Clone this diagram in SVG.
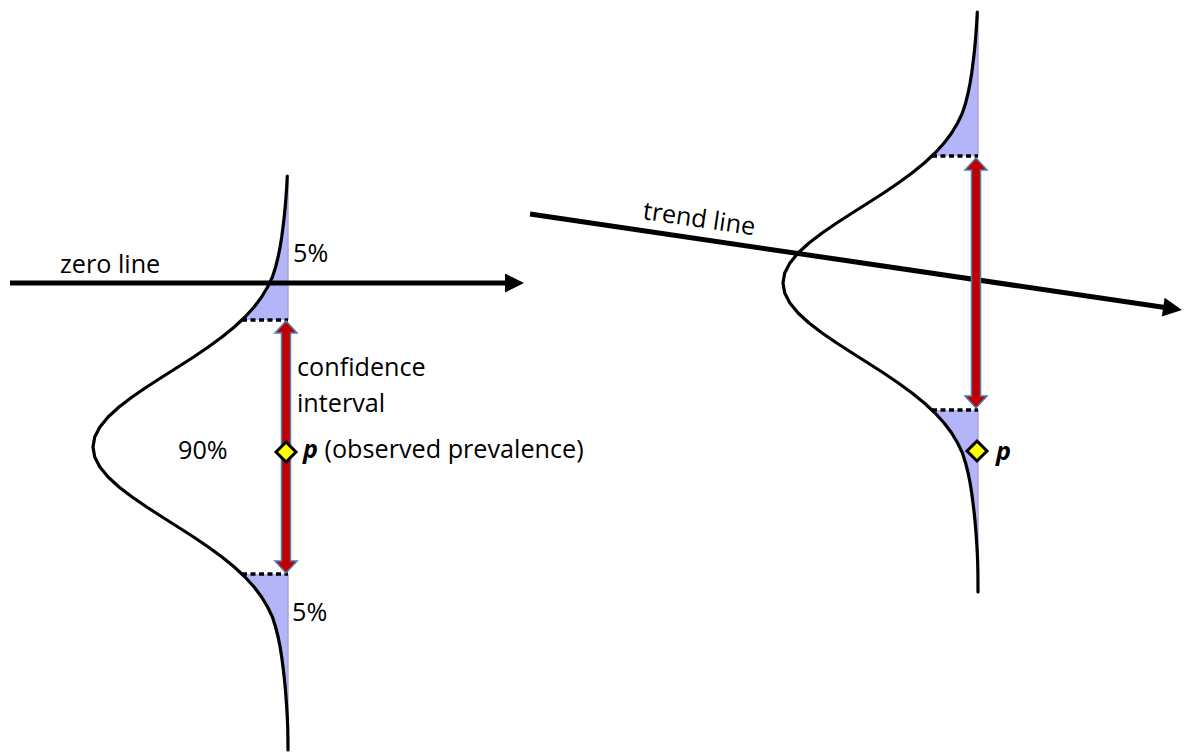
<svg xmlns="http://www.w3.org/2000/svg" width="1184" height="753" viewBox="0 0 1184 753">
<style>
.lbl{font-family:"Open Sans","Noto Sans","Liberation Sans",sans-serif;font-size:25.2px;fill:#000}
.pb{font-weight:bold;font-style:italic}
.curve{fill:none;stroke:#000;stroke-width:3.2;stroke-linejoin:round;stroke-linecap:round}
.tail{fill:#b4b4f8;stroke:none}
.edge{stroke:#a6a6d2;stroke-width:1.5}
.dots{stroke:#000;stroke-width:3.5;stroke-dasharray:5 3.5}
.ci{fill:#c00000;stroke:#4a7ebb;stroke-width:1.5;stroke-linejoin:miter}
.axis{stroke:#000;stroke-width:5;fill:none}
.head{fill:#000}
.pt{fill:#ffff00;stroke:#000;stroke-width:3;stroke-linejoin:miter}
</style>
<rect width="1184" height="753" fill="#fff"/>

<g id="left-distribution">
  <polygon class="tail" points="287.3,176 286.7,187 286,197 285.2,207 284.2,217 283,227 281.7,237 280.1,247 278.1,257 275.6,267 272.4,277 267.6,287 261.6,297 254.1,307 245,317 241.8,320 288,320 288,176"/>
  <polygon class="tail" points="241.8,574 245,577 254.1,587 261.6,597 267.6,607 272.4,617 275.6,627 278.1,637 280.1,647 281.7,657 283,667 284.2,677 285.2,687 286,697 286.7,707 287.3,717 287.7,727 287.9,737 288,750 288,574"/>
  <line class="edge" x1="288" y1="180" x2="288" y2="320"/>
  <line class="edge" x1="288" y1="574" x2="288" y2="740"/>
  <polyline class="curve" points="287.3,176 286.7,187 286,197 285.2,207 284.2,217 283,227 281.7,237 280.1,247 278.1,257 275.6,267 272.4,277 267.6,287 261.6,297 254.1,307 245,317 234.3,327 222,337 208.3,347 193.6,357 178,367 162.2,377 146.7,387 132.1,397 119,407 108.1,417 99.9,427 94.7,437 93,447 94.7,457 99.9,467 108.1,477 119,487 132.1,497 146.7,507 162.2,517 178,527 193.6,537 208.3,547 222,557 234.3,567 245,577 254.1,587 261.6,597 267.6,607 272.4,617 275.6,627 278.1,637 280.1,647 281.7,657 283,667 284.2,677 285.2,687 286,697 286.7,707 287.3,717 287.7,727 287.9,737 288,750"/>
  <line class="dots" x1="242" y1="320" x2="288" y2="320"/>
  <line class="dots" x1="242" y1="574" x2="288" y2="574"/>
  <text class="lbl" x="293" y="262">5%</text>
  <text class="lbl" x="292" y="621">5%</text>
  <text class="lbl" x="178" y="459">90%</text>
</g>

<g id="right-distribution">
  <polygon class="tail" points="977.3,12 976.7,23 976,33 975.2,43 974.2,53 973,63 971.7,73 970.1,83 968.1,93 965.6,103 962.4,113 957.6,123 951.6,133 944.1,143 935,153 931.8,156 978,156 978,12"/>
  <polygon class="tail" points="931.8,410 935,413 944.1,423 951.6,433 957.6,443 962.4,453 965.6,463 968.1,473 970.1,483 971.7,493 973,503 974.2,513 975.2,523 976,533 976.7,543 977.3,553 977.7,563 977.9,573 978,592 978,410"/>
  <line class="edge" x1="978" y1="16" x2="978" y2="156"/>
  <line class="edge" x1="978" y1="410" x2="978" y2="580"/>
  <polyline class="curve" points="977.3,12 976.7,23 976,33 975.2,43 974.2,53 973,63 971.7,73 970.1,83 968.1,93 965.6,103 962.4,113 957.6,123 951.6,133 944.1,143 935,153 924.3,163 912,173 898.3,183 883.6,193 868,203 852.2,213 836.7,223 822.1,233 809,243 798.1,253 789.9,263 784.7,273 783,283 784.7,293 789.9,303 798.1,313 809,323 822.1,333 836.7,343 852.2,353 868,363 883.6,373 898.3,383 912,393 924.3,403 935,413 944.1,423 951.6,433 957.6,443 962.4,453 965.6,463 968.1,473 970.1,483 971.7,493 973,503 974.2,513 975.2,523 976,533 976.7,543 977.3,553 977.7,563 977.9,573 978,592"/>
  <line class="dots" x1="932" y1="156" x2="978" y2="156"/>
  <line class="dots" x1="932" y1="410" x2="978" y2="410"/>
</g>

<g id="connectors">
  <g id="zero-line">
    <line class="axis" x1="10" y1="283" x2="507" y2="283"/>
    <polygon class="head" points="505,273.5 524,283 505,292.5"/>
  </g>
  <g id="trend-line">
    <line class="axis" x1="530" y1="214" x2="1165" y2="307.5"/>
    <polygon class="head" points="1164.6,297.8 1182,310 1161.8,316.6"/>
  </g>
  <g id="ci-left">
    <polygon class="ci" points="286,321 297,333 290.5,333 290.5,561 297,561 286,573 275,561 281.5,561 281.5,333 275,333"/>
  </g>
  <g id="ci-right">
    <polygon class="ci" points="976,158 987,170 980.5,170 980.5,396 987,396 976,408 965,396 971.5,396 971.5,170 965,170"/>
  </g>
</g>

<g id="point-left">
  <path class="pt" d="M286,442 L296,452 L286,462 L276,452 Z"/>
  <text class="lbl" x="303" y="458"><tspan class="pb">p</tspan> (observed prevalence)</text>
</g>
<g id="point-right">
  <path class="pt" d="M977,441 L987,451 L977,461 L967,451 Z"/>
  <text class="lbl pb" x="996" y="460">p</text>
</g>

<g id="labels">
  <text class="lbl" x="60" y="273">zero line</text>
  <text class="lbl" x="297" y="376">confidence</text>
  <text class="lbl" x="297" y="412">interval</text>
  <text class="lbl" transform="translate(642,219) rotate(8.3)">trend line</text>
</g>
</svg>
